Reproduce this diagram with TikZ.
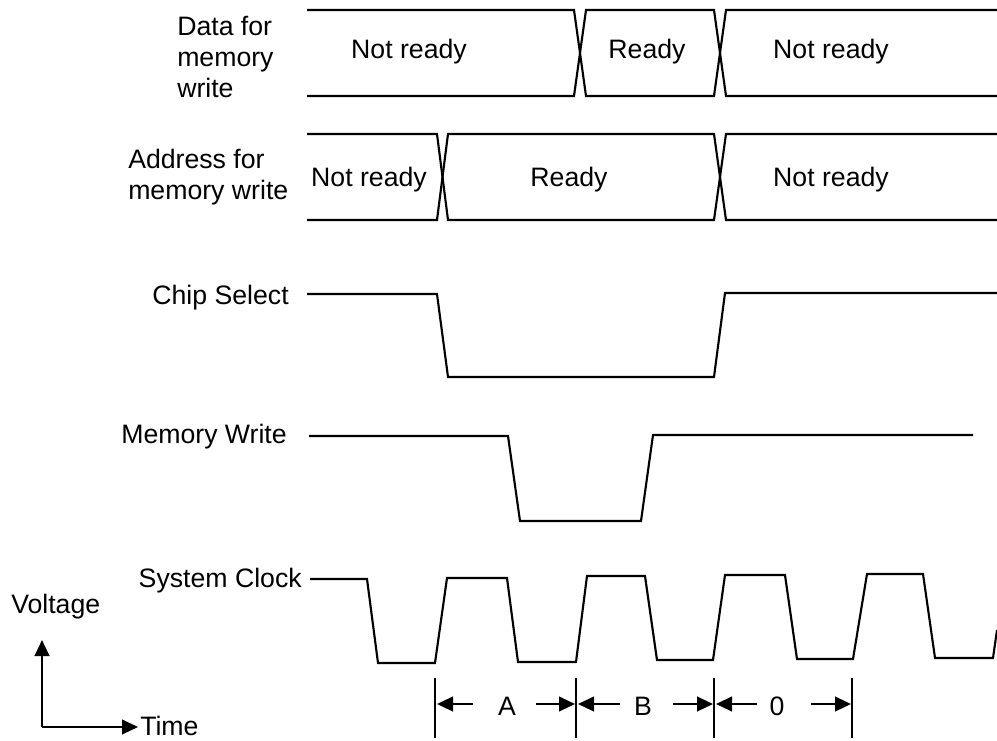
\documentclass[tikz,border=0pt]{standalone}
\usepackage{fontspec}
\setmainfont{Liberation Sans}
\usetikzlibrary{arrows.meta}

\begin{document}
\begin{tikzpicture}[x=0.75pt, y=-0.75pt,
  sig/.style={line width=1.6pt, line join=miter},
  txt/.style={font=\fontsize{20}{23.5}\selectfont, inner sep=0pt},
  dim/.style={line width=1.6pt, -{Triangle[length=12pt,width=11pt]}}]

\useasboundingbox (0,0) rectangle (997,740);

\coordinate (A) at (435,678);
\coordinate (B) at (435,738);
\coordinate (C) at (576,678);
\coordinate (D) at (576,738);
\coordinate (E) at (714,678);
\coordinate (F) at (714,738);
\coordinate (G) at (852,678);
\coordinate (H) at (852,738);
\coordinate (P1) at (473,704);
\coordinate (P2) at (437,704);
\coordinate (P3) at (536,704);
\coordinate (P4) at (575,704);
\coordinate (Q1) at (620,704);
\coordinate (Q2) at (578,704);
\coordinate (Q3) at (673,704);
\coordinate (Q4) at (713,704);
\coordinate (R1) at (757,704);
\coordinate (R2) at (716,704);
\coordinate (R3) at (811,704);
\coordinate (R4) at (851,704);
\coordinate (O) at (42,727);
\coordinate (V) at (42,640);
\coordinate (T) at (138,727);

\draw [sig] (307,10)--(574,10)--(586,96)--(714,96)--(726,10)--(997,10);
\draw [sig] (307,96)--(574,96)--(586,10)--(714,10)--(726,96)--(997,96);
\draw [sig] (307,134)--(437,134)--(448,220)--(714,220)--(726,134)--(997,134);
\draw [sig] (307,220)--(437,220)--(448,134)--(714,134)--(726,220)--(997,220);
\draw [sig] (307,294)--(437,294)--(448,377)--(714,377)--(725,293)--(997,293);
\draw [sig] (309,436)--(508,436)--(520,521)--(641,521)--(653,435)--(973,435);
\draw [sig] (310,579)--(367,579)--(378,663)--(435,663)--(447,578)--(507,578)--(518,662)--(576,662)
  --(587,576)--(645,576)--(657,660)--(713,660)--(725,575)--(785,575)--(797,659)--(853,659)
  --(867,574)--(923,574)--(935,658)--(993,658)--(997,630);

\draw [sig] (A)--(B);
\draw [sig] (C)--(D);
\draw [sig] (E)--(F);
\draw [sig] (G)--(H);
\draw [dim] (P1)--(P2);
\draw [dim] (P3)--(P4);
\draw [dim] (Q1)--(Q2);
\draw [dim] (Q3)--(Q4);
\draw [dim] (R1)--(R2);
\draw [dim] (R3)--(R4);
\draw [dim] (O)--(V);
\draw [dim] (O)--(T);

\node [txt, anchor=west, align=left] (data) at (177,57) {Data for\\memory\\write};
\node [txt, anchor=west, align=left] (addr) at (128,177) {Address for\\memory write};
\node [txt, anchor=base east] (cs) at (289,304) {Chip Select};
\node [txt, anchor=base east] (mw) at (287,443) {Memory Write};
\node [txt, anchor=base east] (clk) at (302,587) {System Clock};
\node [txt, anchor=base west] (volt) at (11,613) {Voltage};
\node [txt, anchor=base west] (time) at (140,735) {Time};
\node [txt, anchor=base] (nr1) at (409,58) {Not ready};
\node [txt, anchor=base] (rd1) at (647,58) {Ready};
\node [txt, anchor=base] (nr2) at (831,58) {Not ready};
\node [txt, anchor=base] (nr3) at (369,186) {Not ready};
\node [txt, anchor=base] (rd2) at (569,186) {Ready};
\node [txt, anchor=base] (nr4) at (831,186) {Not ready};
\node [txt, anchor=base] (a) at (507,715) {A};
\node [txt, anchor=base] (b) at (643,715) {B};
\node [txt, anchor=base] (z) at (777,715) {0};
\end{tikzpicture}
\end{document}
